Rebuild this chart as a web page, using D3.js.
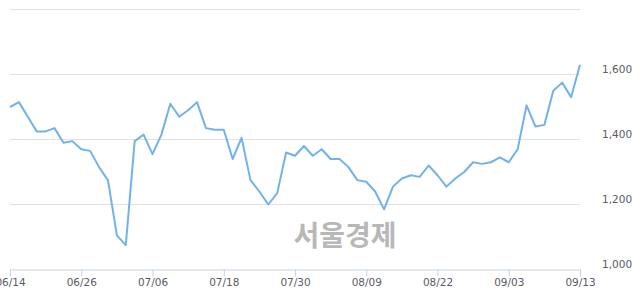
<!DOCTYPE html>
<html>
<head>
<meta charset="utf-8">
<script src="https://cdn.jsdelivr.net/npm/d3@7"></script>
<style>
body { margin: 0; background: #fff; }
svg { display: block; }
</style>
</head>
<body>
<svg width="640" height="294"></svg>
<script>
// daily closing prices, 65 trading days
var prices = [1500, 1515, 1470, 1425, 1425, 1435, 1390, 1395, 1370, 1365,
    1315, 1275, 1105, 1075, 1395, 1415, 1355, 1415, 1510, 1470,
    1490, 1515, 1435, 1430, 1430, 1340, 1405, 1275, 1240, 1200,
    1235, 1360, 1350, 1380, 1350, 1370, 1340, 1340, 1315, 1275,
    1270, 1240, 1185, 1255, 1280, 1290, 1285, 1320, 1290, 1255,
    1280, 1300, 1330, 1325, 1330, 1345, 1330, 1370, 1505, 1440,
    1445, 1550, 1575, 1530, 1630];

var tickLabels = ["06/14", "06/26", "07/06", "07/18", "07/30", "08/09", "08/22", "09/03", "09/13"];
var yTicks = [1000, 1200, 1400, 1600, 1800];
var yLabelTicks = [1000, 1200, 1400, 1600];

var svg = d3.select("svg");

var x = d3.scaleLinear()
    .domain([0, prices.length - 1])
    .range([10, 580]);

var y = d3.scaleLinear()
    .domain([1000, 1800])
    .range([269.5, 9.5]);

// grid
svg.append("g")
  .selectAll("line")
  .data(yTicks.slice(1))
  .enter().append("line")
    .attr("x1", 10)
    .attr("x2", 580)
    .attr("y1", function(d) { return y(d); })
    .attr("y2", function(d) { return y(d); })
    .attr("stroke", "#e2e2e2")
    .attr("stroke-width", 1);

// watermark
svg.append("text")
    .attr("x", 345)
    .attr("y", 246)
    .attr("text-anchor", "middle")
    .attr("font-family", "'Noto Sans CJK KR', sans-serif")
    .attr("font-weight", "bold")
    .attr("font-size", 28)
    .attr("fill", "#b8b8b8")
    .text("서울경제");

// x axis
var tickStep = (prices.length - 1) / (tickLabels.length - 1);
var xAxis = d3.axisBottom(x)
    .tickValues(d3.range(tickLabels.length).map(function(i) { return i * tickStep; }))
    .tickFormat(function(d, i) { return tickLabels[i]; })
    .tickSize(7)
    .tickSizeOuter(0)
    .tickPadding(2);

var gx = svg.append("g")
    .attr("transform", "translate(0,269.5)")
    .call(xAxis);

gx.select(".domain").attr("stroke", "#c6d1e6");
gx.selectAll(".tick line").attr("stroke", "#c6d1e6");
gx.selectAll(".tick text")
    .attr("fill", "#5b5b66")
    .attr("font-family", "'DejaVu Sans', Verdana, sans-serif")
    .attr("font-size", 10.5);

// y labels
svg.append("g")
  .selectAll("text")
  .data(yLabelTicks)
  .enter().append("text")
    .attr("x", 602)
    .attr("y", function(d) { return y(d) - 2; })
    .attr("fill", "#5b5b66")
    .attr("font-family", "'DejaVu Sans', Verdana, sans-serif")
    .attr("font-size", 10.5)
    .text(function(d) { return d3.format(",")(d); });

// price line
var line = d3.line()
    .x(function(d, i) { return x(i); })
    .y(function(d) { return y(d); });

svg.append("path")
    .datum(prices)
    .attr("d", line)
    .attr("fill", "none")
    .attr("stroke", "#72b2ec")
    .attr("stroke-width", 2)
    .attr("stroke-linejoin", "round");
</script>
</body>
</html>
